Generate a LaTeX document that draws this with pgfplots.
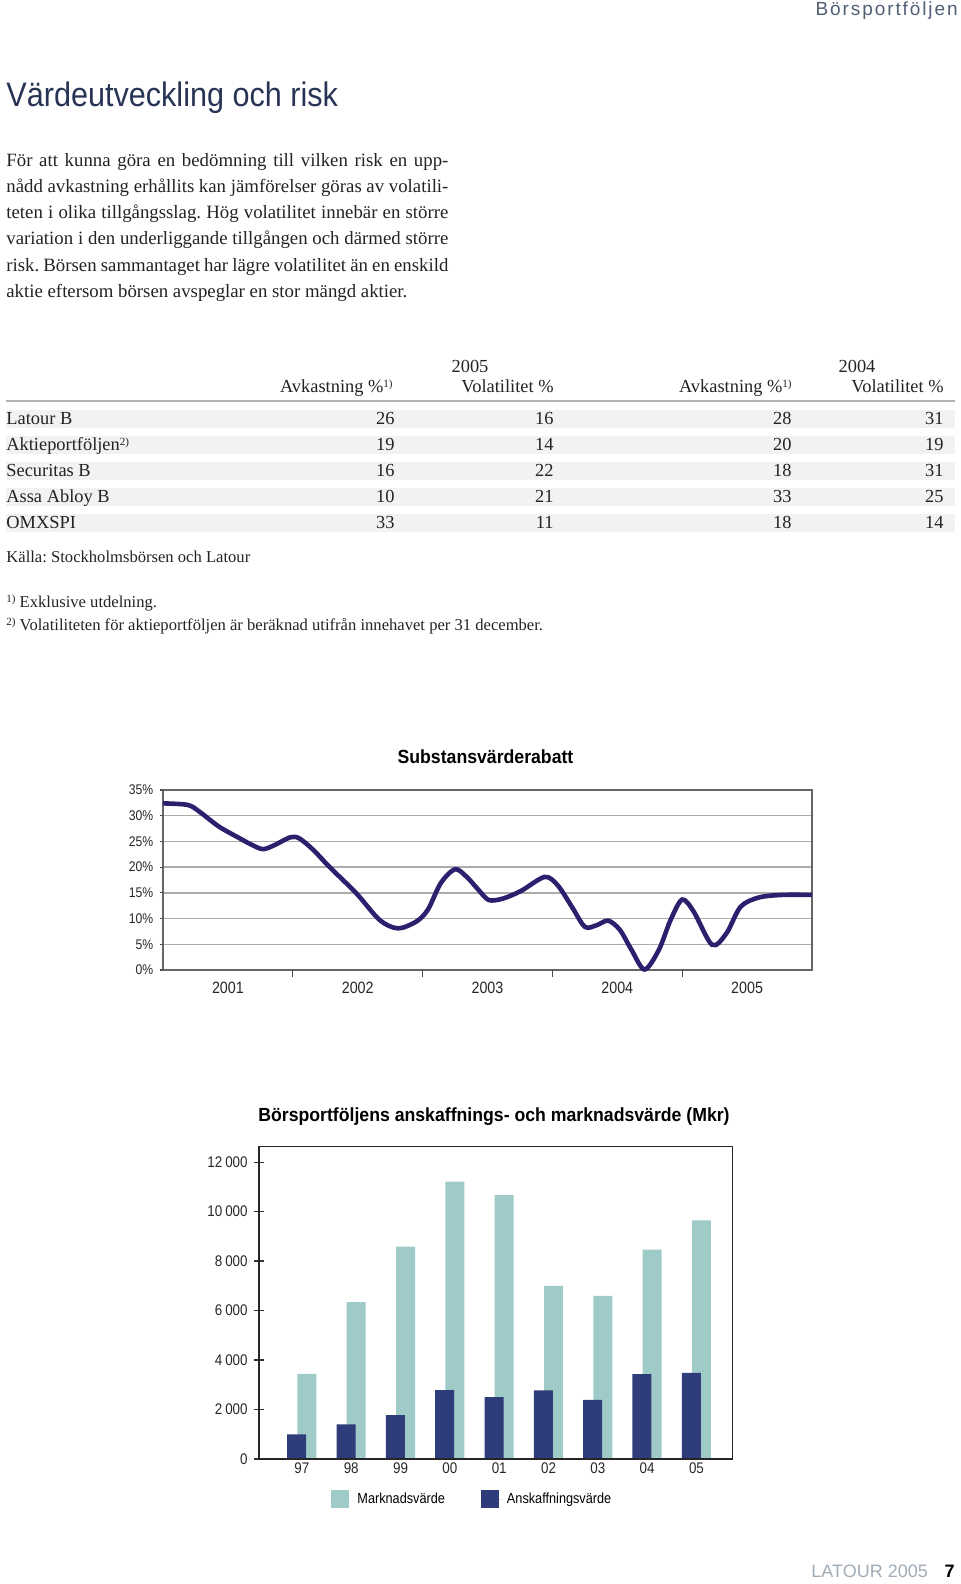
\documentclass[border=0pt]{standalone}
\usepackage{pgfplots}
\pgfplotsset{compat=1.18}
\usepackage{fontspec}
\setmainfont{Liberation Serif}
\newfontfamily\sansc[FakeStretch=0.87]{Liberation Sans}
\newfontfamily\titlef[FakeStretch=0.9]{Liberation Sans}
\newfontfamily\headf[FakeStretch=0.93]{Liberation Sans}
\newfontfamily\spacedf[LetterSpace=10]{Liberation Sans}
\newfontfamily\plainsans{Liberation Sans}

\definecolor{navytitle}{RGB}{40,52,85}
\definecolor{headgray}{RGB}{80,95,115}
\definecolor{footgray}{RGB}{160,172,182}
\definecolor{linecol}{RGB}{45,30,110}
\definecolor{marknad}{RGB}{158,203,200}
\definecolor{anskaff}{RGB}{46,60,122}
\definecolor{bodytext}{RGB}{35,35,35}

\frenchspacing
% small footnote mark
\newcommand{\fn}[1]{\raisebox{0.55ex}{\fontsize{5.5}{6}\selectfont #1}}
% one justified line of the paragraph
\newcommand{\pline}[2]{\node[anchor=base west] at (6,#1) {\makebox[221pt][s]{#2}};}
% one row of the table
\newcommand{\trow}[6]{%
  \fill[black!5] (6,#1-15) rectangle (955,#1+3);
  \node[anchor=base west] at (6,#1) {#2};
  \node[anchor=base east] at (395,#1) {#3};
  \node[anchor=base east] at (554,#1) {#4};
  \node[anchor=base east] at (792,#1) {#5};
  \node[anchor=base east] at (944,#1) {#6};}

\begin{document}
\begin{tikzpicture}
\begin{scope}[x=0.5pt, y=-0.5pt, every node/.style={inner sep=0pt}]
\path[use as bounding box] (0,0) rectangle (960,1584);

% page header and title
\node[anchor=east, text=headgray] at (958,11) {\spacedf\fontsize{9.5}{11}\selectfont Börsportföljen};
\node[anchor=base west, text=navytitle] at (6,107) {\titlef\fontsize{17}{20}\selectfont Värdeutveckling och risk};

% paragraph
\begin{scope}[every node/.append style={text=bodytext, font=\fontsize{9.4}{11}\selectfont}]
\pline{166}{För att kunna göra en bedömning till vilken risk en upp-}
\pline{192}{nådd avkastning erhållits kan jämförelser göras av volatili-}
\pline{218.5}{teten i olika tillgångsslag. Hög volatilitet innebär en större}
\pline{244.5}{variation i den underliggande tillgången och därmed större}
\pline{271}{risk. Börsen sammantaget har lägre volatilitet än en enskild}
\node[anchor=base west] at (6,297) {aktie eftersom börsen avspeglar en stor mängd aktier.};
\end{scope}

% table
\begin{scope}[every node/.append style={text=bodytext, font=\fontsize{9.2}{11}\selectfont}]
\node[anchor=base] at (470,372) {2005};
\node[anchor=base] at (857,372) {2004};
\node[anchor=base east] at (393,392.5) {Avkastning \%\fn{1)}};
\node[anchor=base east] at (554,392.5) {Volatilitet \%};
\node[anchor=base east] at (792,392.5) {Avkastning \%\fn{1)}};
\node[anchor=base east] at (944,392.5) {Volatilitet \%};
\draw[gray!60, line width=1pt] (6,401) -- (955,401);
\trow{424.5}{Latour B}{26}{16}{28}{31}
\trow{450.5}{Aktieportföljen\fn{2)}}{19}{14}{20}{19}
\trow{476.5}{Securitas B}{16}{22}{18}{31}
\trow{502.5}{Assa Abloy B}{10}{21}{33}{25}
\trow{528.5}{OMXSPI}{33}{11}{18}{14}
\end{scope}
\begin{scope}[every node/.append style={text=bodytext, font=\fontsize{8.3}{10}\selectfont}]
\node[anchor=base west] at (6,562) {Källa: Stockholmsbörsen och Latour};
\node[anchor=base west] at (6,607) {\fn{1)} Exklusive utdelning.};
\node[anchor=base west] at (6,630) {\fn{2)} Volatiliteten för aktieportföljen är beräknad utifrån innehavet per 31 december.};
\end{scope}

% chart titles
\node[anchor=center] at (485.5,757) {\headf\bfseries\fontsize{9.5}{11}\selectfont Substansvärderabatt};
\node[anchor=center] at (494,1117) {\headf\bfseries\fontsize{9.5}{11}\selectfont Börsportföljens anskaffnings- och marknadsvärde (Mkr)};

% footer
\node[anchor=base west, text=footgray] at (811,1577.5) {\plainsans\fontsize{9}{11}\selectfont LATOUR 2005};
\node[anchor=base east] at (955,1577.5) {\plainsans\bfseries\fontsize{9}{11}\selectfont 7};
\end{scope}

% Substansvärderabatt
\begin{axis}[
  at={(81.5pt,-485pt)}, anchor=south west,
  scale only axis, width=324.5pt, height=90pt,
  xmin=2001, xmax=2006, ymin=0, ymax=35,
  xtick={2001.5,2002.5,2003.5,2004.5,2005.5},
  xticklabels={2001,2002,2003,2004,2005},
  ytick={0,5,...,35},
  yticklabels={0\%,5\%,10\%,15\%,20\%,25\%,30\%,35\%},
  xtick pos=bottom, ytick pos=left, tick align=outside,
  major tick length=0pt, tick style={draw=none},
  ymajorgrids, grid style={gray!65, line width=0.7pt},
  axis line style={black!60, line width=0.7pt},
  yticklabel style={font=\sansc\fontsize{7}{8}\selectfont, text=black!85, xshift=-1.4pt},
  xticklabel style={font=\sansc\fontsize{8.2}{9}\selectfont, text=black!85, yshift=-2.7pt},
  after end axis/.code={%
    \foreach \yr in {2002,2003,2004,2005}
      {\draw[black!70, line width=0.6pt] (axis cs:\yr,0) -- ++(0pt,-3.5pt);}
    \foreach \v in {0,5,...,35}
      {\draw[black!70, line width=0.6pt] (axis cs:2001,\v) -- ++(-1.5pt,0pt);}},
  clip=false,
]
\addplot[linecol, line width=2.3pt, smooth] coordinates {
  (2001.00,32.4) (2001.19,32.1) (2001.28,30.8) (2001.43,27.9) (2001.57,25.9)
  (2001.68,24.4) (2001.77,23.5) (2001.86,24.3) (2001.98,25.8) (2002.05,25.6)
  (2002.16,23.3) (2002.28,20.1) (2002.49,14.9) (2002.67,9.7) (2002.81,8.1)
  (2002.95,9.4) (2003.04,11.7) (2003.14,16.9) (2003.25,19.6) (2003.34,18.1)
  (2003.43,15.6) (2003.51,13.6) (2003.62,13.9) (2003.76,15.4) (2003.94,18.1)
  (2004.04,16.5) (2004.15,12.3) (2004.25,8.4) (2004.34,8.7) (2004.43,9.6)
  (2004.52,7.8) (2004.61,3.9) (2004.71,0.1) (2004.82,3.9) (2004.91,9.7)
  (2005.00,13.7) (2005.09,11.3) (2005.23,4.9) (2005.34,7.1) (2005.45,12.3)
  (2005.59,14.1) (2005.77,14.6) (2006.00,14.6)};
\end{axis}

% Börsportföljens anskaffnings- och marknadsvärde
\begin{axis}[
  at={(129.5pt,-729.5pt)}, anchor=south west,
  scale only axis, width=237pt, height=156.5pt,
  xmin=-0.87, xmax=8.74, ymin=0, ymax=12650,
  xtick={0,...,8}, xticklabels={97,98,99,00,01,02,03,04,05},
  ytick={0,2000,...,12000}, scaled y ticks=false,
  yticklabels={0,2\kern0.2em000,4\kern0.2em000,6\kern0.2em000,8\kern0.2em000,10\kern0.2em000,12\kern0.2em000},
  xtick pos=bottom, ytick pos=left, tick align=center,
  xtick style={draw=none, /pgfplots/major tick length=0pt},
  ytick style={/pgfplots/major tick length=5pt, black!80, line width=0.6pt},
  axis line style={black!85, line width=0.5pt},
  after end axis/.code={\draw[black!85, line width=1pt] (rel axis cs:0,1) -- (rel axis cs:0,0) -- (rel axis cs:1,0);},
  ticklabel style={font=\sansc\fontsize{7.7}{9}\selectfont, text=black!85},
  xticklabel style={yshift=4pt},
  legend style={at={(0.152,-0.129)}, anchor=west, draw=none, inner sep=0pt,
    font=\sansc\fontsize{7.3}{9}\selectfont, legend columns=2,
    /tikz/every even column/.append style={column sep=16pt}},
  legend image code/.code={\fill[#1] (0pt,-4.5pt) rectangle (9pt,4.5pt); \path (0pt,0pt) -- (11pt,0pt);},
]
\addplot[ybar, bar width=9.5pt, bar shift=2.5pt, fill=marknad, draw=none]
  coordinates {(0,3440) (1,6340) (2,8580) (3,11210) (4,10670) (5,7000) (6,6590) (7,8460) (8,9640)};
\addlegendentry{Marknadsvärde}
\addplot[ybar, bar width=9.5pt, bar shift=-2.6pt, fill=anskaff, draw=none]
  coordinates {(0,1000) (1,1400) (2,1770) (3,2780) (4,2500) (5,2770) (6,2390) (7,3430) (8,3480)};
\addlegendentry{Anskaffningsvärde}
\end{axis}
\end{tikzpicture}
\end{document}
